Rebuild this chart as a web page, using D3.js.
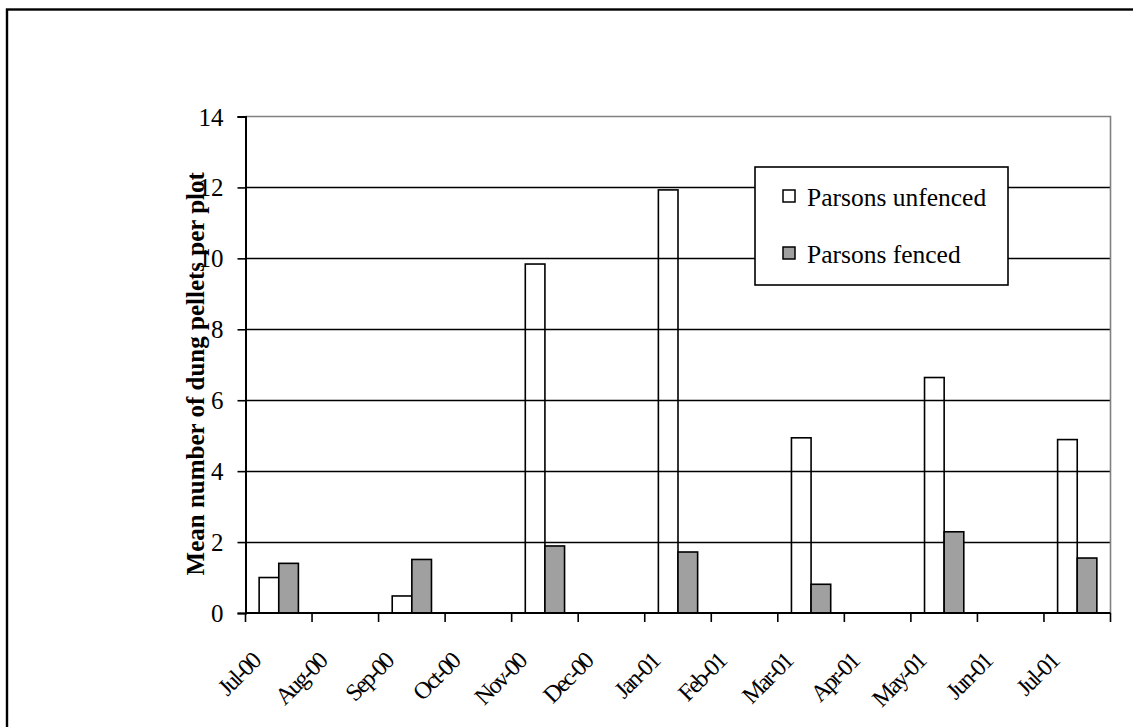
<!DOCTYPE html>
<html>
<head>
<meta charset="utf-8">
<script src="https://cdn.jsdelivr.net/npm/d3@7"></script>
<style>
  html, body { margin: 0; padding: 0; background: #fff; }
  svg { display: block; }
  text { font-family: "Liberation Serif", "Times New Roman", serif; fill: #000; }
</style>
</head>
<body>
<svg id="chart" width="1133" height="727"></svg>
<script>
// Survey months on the time axis (one band per month)
const months = ["Jul-00", "Aug-00", "Sep-00", "Oct-00", "Nov-00", "Dec-00",
                "Jan-01", "Feb-01", "Mar-01", "Apr-01", "May-01", "Jun-01", "Jul-01"];
// Months in which plots were counted
const sampleMonths = ["Jul-00", "Sep-00", "Nov-00", "Jan-01", "Mar-01", "May-01", "Jul-01"];
// Mean dung pellets per plot
const unfenced = [1.0, 0.48, 9.84, 11.93, 4.94, 6.64, 4.89];
const fenced   = [1.40, 1.51, 1.89, 1.72, 0.81, 2.29, 1.55];
const seriesNames = ["Parsons unfenced", "Parsons fenced"];
const yTicks = [0, 2, 4, 6, 8, 10, 12, 14];

const colors = { "Parsons unfenced": "#ffffff", "Parsons fenced": "#a0a0a0" };

const svg = d3.select("#chart");

// outer chart frame
svg.append("rect")
  .attr("x", 7).attr("y", 9.5)
  .attr("width", 1300).attr("height", 900)
  .attr("fill", "none").attr("stroke", "#000").attr("stroke-width", 2.4);

const plot = { left: 245.5, right: 1110.5, top: 116.5, bottom: 613 };

const x = d3.scaleBand().domain(months).range([plot.left, plot.right]).padding(0);
const y = d3.scaleLinear().domain([0, 14]).range([plot.bottom, plot.top]);

const groupWidth = x.bandwidth() * 0.59;
const x1 = d3.scaleBand().domain(seriesNames).range([0, groupWidth]).padding(0);

// horizontal gridlines
svg.append("g")
  .selectAll("line")
  .data(yTicks.filter(t => t > 0 && t < 14))
  .join("line")
  .attr("x1", plot.left).attr("x2", plot.right)
  .attr("y1", d => Math.round(y(d)) + 0.5).attr("y2", d => Math.round(y(d)) + 0.5)
  .attr("stroke", "#000").attr("stroke-width", 1.4);

// plot area border (top and right)
svg.append("path")
  .attr("d", `M${plot.left},${plot.top}H${plot.right}V${plot.bottom}`)
  .attr("fill", "none").attr("stroke", "#808080").attr("stroke-width", 1.6);

// bars
const rows = sampleMonths.map((m, i) => ({
  month: m,
  values: [
    { key: seriesNames[0], value: unfenced[i] },
    { key: seriesNames[1], value: fenced[i] }
  ]
}));

const groups = svg.append("g")
  .selectAll("g")
  .data(rows)
  .join("g")
  .attr("transform", d => `translate(${x(d.month) + (x.bandwidth() - groupWidth) / 2},0)`);

groups.selectAll("rect")
  .data(d => d.values)
  .join("rect")
  .attr("x", d => x1(d.key))
  .attr("y", d => y(d.value))
  .attr("width", x1.bandwidth())
  .attr("height", d => y(0) - y(d.value))
  .attr("fill", d => d.key === seriesNames[0] ? "none" : colors[d.key])
  .attr("stroke", "#000").attr("stroke-width", 1.6);

// y axis
const yAxis = svg.append("g")
  .attr("transform", `translate(${plot.left},0)`)
  .call(d3.axisLeft(y).tickValues(yTicks).tickSize(8).tickPadding(14).tickFormat(d3.format("d")));
yAxis.select(".domain").attr("stroke", "#000").attr("stroke-width", 2);
yAxis.selectAll(".tick line").attr("stroke", "#000").attr("stroke-width", 1.6);
yAxis.selectAll(".tick text")
  .style("font-family", "'Liberation Serif', 'Times New Roman', serif")
  .style("font-size", "25px").attr("fill", "#000").attr("dy", "0.34em");

// x axis: ticks at month boundaries, labels at band start
const xAxisG = svg.append("g").attr("transform", `translate(0,${plot.bottom})`);
xAxisG.append("line")
  .attr("x1", plot.left).attr("x2", plot.right)
  .attr("stroke", "#000").attr("stroke-width", 2);
const boundaries = months.map(m => x(m)).concat([plot.right]);
xAxisG.selectAll("line.tick")
  .data(boundaries)
  .join("line")
  .attr("class", "tick")
  .attr("x1", d => d).attr("x2", d => d)
  .attr("y1", 0).attr("y2", 9)
  .attr("stroke", "#000").attr("stroke-width", 1.6);
xAxisG.selectAll("text")
  .data(months)
  .join("text")
  .attr("transform", d => `translate(${x(d) + 16},${50}) rotate(-45)`)
  .attr("text-anchor", "end")
  .style("font-size", "24px")
  .style("letter-spacing", "-2px")
  .text(d => d);

// y axis title
svg.append("text")
  .attr("transform", `translate(204,${(plot.top + plot.bottom) / 2 + 9}) rotate(-90)`)
  .attr("text-anchor", "middle")
  .style("font-size", "25px")
  .style("font-weight", "bold")
  .text("Mean number of dung pellets per plot");

// legend
const legend = svg.append("g");
legend.append("rect")
  .attr("x", 755).attr("y", 167).attr("width", 253).attr("height", 118)
  .attr("fill", "#fff").attr("stroke", "#000").attr("stroke-width", 1.6);
const legendItems = legend.selectAll("g.item")
  .data(seriesNames)
  .join("g")
  .attr("class", "item")
  .attr("transform", (d, i) => `translate(783,${190 + i * 57})`);
legendItems.append("rect")
  .attr("width", 12).attr("height", 12)
  .attr("fill", d => colors[d]).attr("stroke", "#000").attr("stroke-width", 1.5);
legendItems.append("text")
  .attr("x", 24).attr("y", 15.5)
  .style("font-size", "25.5px")
  .text(d => d);
</script>
</body>
</html>
